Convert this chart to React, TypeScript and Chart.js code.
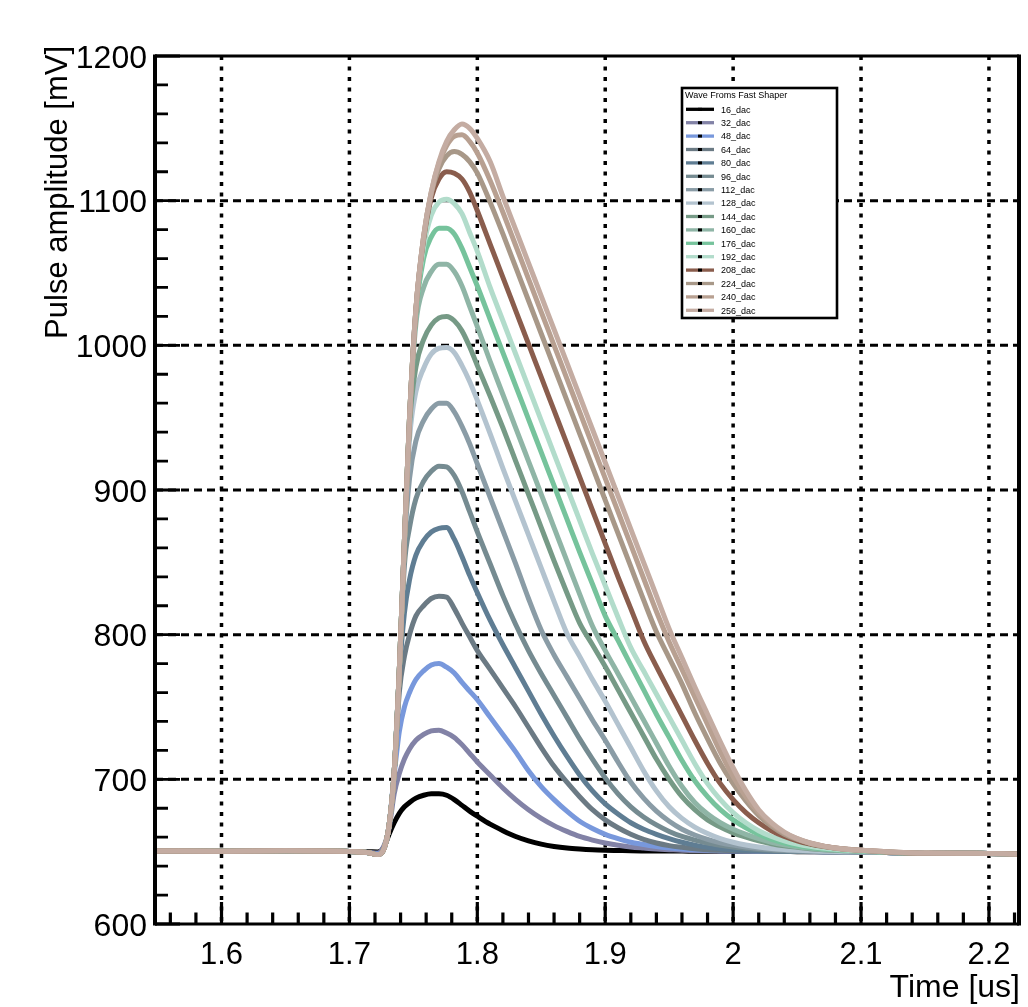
import React, { useEffect, useRef } from 'react';
import { Chart, registerables } from 'chart.js';

Chart.register(...registerables);

// ---------------- data ----------------
const timeUs = [1.548, 1.6, 1.65, 1.7, 1.715, 1.722, 1.727, 1.731, 1.735, 1.739, 1.743, 1.747, 1.752, 1.758, 1.764, 1.77, 1.776, 1.782, 1.788, 1.794, 1.8, 1.81, 1.82, 1.83, 1.84, 1.85, 1.86, 1.87, 1.88, 1.89, 1.9, 1.91, 1.92, 1.93, 1.94, 1.95, 1.96, 1.97, 1.98, 1.99, 2.0, 2.01, 2.02, 2.03, 2.04, 2.05, 2.06, 2.07, 2.08, 2.09, 2.1, 2.12, 2.15, 2.19, 2.2235];

const dac16 = [650.5, 650.3, 650.6, 650.2, 650, 649.8, 653, 662, 670, 676.5, 681, 684, 687, 689, 690, 690, 689, 686, 682, 678, 674.5, 669, 664.5, 660.5, 657.5, 655.2, 653.6, 652.5, 651.8, 651.3, 651, 650.8, 650.6, 650.5, 650.5, 650.4, 650.4, 650.3, 650.3, 650.3, 650.2, 650.2, 650.1, 650.1, 650.1, 650, 650, 650, 649.9, 649.9, 649.8, 649.5, 648.8, 648.9, 648.3];
const dac32 = [650.5, 650.3, 650.6, 650.2, 649.5, 649, 654, 666, 690, 704, 714, 721, 727, 731, 733.5, 734, 732, 729, 724, 718, 712, 703, 694, 686, 679, 673, 668, 664, 660.5, 658, 656, 654.5, 653.3, 652.5, 651.8, 651.4, 651, 650.8, 650.6, 650.5, 650.4, 650.3, 650.2, 650.2, 650.1, 650.1, 650, 650, 649.9, 649.9, 649.8, 649.5, 648.8, 648.9, 648.3];
const dac48 = [650.5, 650.3, 650.6, 650.2, 649.3, 648.5, 652, 668, 703, 733, 750, 760, 769, 775, 779, 780, 777.5, 773.5, 767, 761, 755, 743, 731, 719, 706, 695, 686, 678, 671, 666, 662, 659, 656.5, 655, 653.5, 652.5, 651.8, 651.3, 651, 650.7, 650.5, 650.4, 650.3, 650.2, 650.2, 650.1, 650.1, 650, 650, 649.9, 649.8, 649.5, 648.8, 648.9, 648.3];
const dac64 = [650.5, 650.3, 650.6, 650.2, 649.3, 648, 652, 668, 705, 760, 785, 800, 813, 820, 825, 826.5, 826, 818, 808, 798.5, 789, 776, 763, 750, 736, 722, 709, 698, 688, 679, 672, 666.5, 662, 658.5, 656, 654.2, 653, 652, 651.4, 651, 650.7, 650.5, 650.4, 650.3, 650.2, 650.2, 650.1, 650, 650, 649.9, 649.8, 649.5, 648.8, 648.9, 648.3];
const dac80 = [650.5, 650.3, 650.6, 650.2, 649.3, 648, 652, 668, 705, 772, 815, 838, 855, 865, 871, 873.5, 874, 866, 854, 841, 829, 810, 793, 777, 761, 745, 730, 716, 703, 692, 683, 676, 670, 665.5, 662, 659, 656.5, 654.5, 653, 652, 651.3, 650.9, 650.6, 650.4, 650.3, 650.2, 650.1, 650, 650, 649.9, 649.8, 649.5, 648.8, 648.9, 648.3];
const dac96 = [650.5, 650.3, 650.6, 650.2, 649.3, 648, 652, 668, 705, 775, 848, 874, 894, 906, 913, 916.5, 916, 910, 899, 885, 871, 849, 827, 807, 789, 773, 758, 743, 728, 714, 701, 690, 681, 674, 668.5, 664, 660.5, 658, 656, 654.5, 653.2, 652.2, 651.5, 651, 650.6, 650.4, 650.2, 650.1, 650, 649.9, 649.8, 649.5, 648.8, 648.9, 648.3];
const dac112 = [650.5, 650.3, 650.6, 650.2, 649.3, 648, 652, 668, 705, 775, 862, 908, 934, 948, 956, 960, 960, 954, 944, 932, 918, 895, 872, 849, 825, 803, 786, 771, 756, 741, 727, 712, 698, 687, 678, 671, 665.5, 661.5, 658.5, 656.2, 654.5, 653.2, 652.2, 651.5, 651, 650.6, 650.4, 650.2, 650, 649.9, 649.8, 649.5, 648.8, 648.9, 648.3];
const dac128 = [650.5, 650.3, 650.6, 650.2, 649.3, 648, 652, 668, 705, 775, 865, 935, 968, 984, 994, 998, 998.5, 995, 986, 975, 962, 939, 915, 892, 869, 846, 823, 801, 785, 769, 754, 738, 722, 706, 692, 681, 673, 667, 662.5, 659, 656.5, 654.6, 653.2, 652.2, 651.5, 651, 650.6, 650.3, 650.1, 650, 649.9, 649.5, 648.8, 648.9, 648.3];
const dac144 = [650.5, 650.3, 650.6, 650.2, 649.3, 648, 652, 668, 705, 775, 865, 945, 985, 1004, 1014, 1019, 1020, 1017, 1010, 999, 986, 965, 943, 920, 897, 874, 851, 829, 808, 793, 778, 762, 746, 730, 714, 700, 688, 679, 672, 667, 663, 660, 657.5, 655.5, 654, 653, 652, 651.3, 650.9, 650.6, 650.3, 649.6, 648.8, 648.9, 648.3];
const dac160 = [650.5, 650.3, 650.6, 650.2, 649.3, 648, 652, 668, 705, 775, 865, 950, 1015, 1040, 1051, 1056, 1056, 1051, 1041, 1027, 1013, 989, 966, 943, 920, 897, 874, 851, 828, 806, 789, 773, 757, 741, 725, 709, 695, 684, 676, 670, 665.5, 662, 659, 656.5, 654.7, 653.3, 652.3, 651.5, 651, 650.6, 650.4, 649.6, 648.8, 648.9, 648.3];
const dac176 = [650.5, 650.3, 650.6, 650.2, 649.3, 648, 652, 668, 705, 775, 865, 950, 1022, 1060, 1075, 1081, 1081, 1077, 1067, 1054, 1041, 1018, 995, 972, 949, 926, 903, 880, 857, 835, 813, 796, 779, 762, 745, 729, 713, 699, 688, 679, 672, 666.5, 662, 658.5, 656, 654.2, 652.9, 652, 651.3, 650.8, 650.5, 649.7, 648.9, 648.9, 648.3];
const dac192 = [650.5, 650.3, 650.6, 650.2, 649.3, 648, 652, 668, 705, 775, 865, 950, 1025, 1068, 1090, 1099, 1101, 1098, 1091, 1078, 1065, 1040, 1017, 994, 971, 948, 925, 902, 879, 856, 834, 812, 791, 775, 759, 743, 727, 711, 697, 686, 677, 670, 664.5, 660.5, 657.5, 655.3, 653.7, 652.5, 651.6, 651, 650.6, 649.7, 648.9, 648.9, 648.3];
const dac208 = [650.5, 650.3, 650.6, 650.2, 649.3, 648, 652, 668, 705, 775, 865, 950, 1025, 1073, 1102, 1115, 1120, 1119, 1115, 1106, 1093, 1070, 1047, 1024, 1001, 978, 955, 932, 909, 886, 863, 840, 818, 796, 778, 761, 744, 727, 711, 697, 686, 677, 670, 664.5, 660.5, 657.5, 655.3, 653.7, 652.5, 651.6, 651, 649.8, 648.9, 648.9, 648.3];
const dac224 = [650.5, 650.3, 650.6, 650.2, 649.3, 648, 652, 668, 705, 775, 865, 950, 1025, 1075, 1105, 1122, 1131, 1134, 1132, 1127, 1119, 1099, 1077, 1054, 1031, 1008, 985, 962, 939, 916, 893, 870, 847, 824, 802, 784, 766, 746, 728, 711, 697, 685, 675, 667.5, 662, 658.5, 655.8, 653.8, 652.4, 651.5, 650.9, 649.8, 648.9, 648.9, 648.3];
const dac240 = [650.5, 650.3, 650.6, 650.2, 649.3, 648, 652, 668, 705, 775, 865, 950, 1025, 1075, 1106, 1126, 1138, 1144.5, 1145.5, 1141, 1133, 1114, 1092, 1069, 1046, 1023, 1000, 977, 954, 931, 908, 885, 862, 839, 816, 795, 776, 757, 738, 719, 702, 688, 677, 669, 663, 659, 656, 654, 652.5, 651.5, 651, 649.9, 649, 648.9, 648.3];
const dac256 = [650.5, 650.3, 650.6, 650.2, 649.3, 648, 652, 668, 705, 775, 865, 950, 1025, 1075, 1106, 1127, 1141, 1149, 1153, 1150, 1143, 1127, 1103, 1080, 1057, 1034, 1011, 988, 965, 942, 919, 896, 873, 850, 827, 804, 784, 764, 745, 726, 708, 692, 679, 670, 663.5, 659, 656, 654, 652.5, 651.5, 651, 649.9, 649, 648.9, 648.3];

const seriesLabels = ['16_dac', '32_dac', '48_dac', '64_dac', '80_dac', '96_dac', '112_dac', '128_dac', '144_dac', '160_dac', '176_dac', '192_dac', '208_dac', '224_dac', '240_dac', '256_dac'];
const seriesValues = [dac16, dac32, dac48, dac64, dac80, dac96, dac112, dac128, dac144, dac160, dac176, dac192, dac208, dac224, dac240, dac256];
const seriesColors = ['#000000', '#8282a6', '#7898dc', '#6b7a84', '#5f7d93', '#758b91', '#8a9ca6', '#b3c3cf', '#769a86', '#8fb5a6', '#76c39c', '#b2dccb', '#8a5d4d', '#a89888', '#b8a091', '#c4aca2'];

const xMajorTicks = [1.6, 1.7, 1.8, 1.9, 2.0, 2.1, 2.2];
const xTickLabels = ['1.6', '1.7', '1.8', '1.9', '2', '2.1', '2.2'];
const xMinorTicks = [1.56, 1.58, 1.62, 1.64, 1.66, 1.68, 1.72, 1.74, 1.76, 1.78, 1.82, 1.84, 1.86, 1.88, 1.92, 1.94, 1.96, 1.98, 2.02, 2.04, 2.06, 2.08, 2.12, 2.14, 2.16, 2.18, 2.22];
const yMajorTicks = [600, 700, 800, 900, 1000, 1100, 1200];
const yTickLabels = ['600', '700', '800', '900', '1000', '1100', '1200'];
const yMinorTicks = [620, 640, 660, 680, 720, 740, 760, 780, 820, 840, 860, 880, 920, 940, 960, 980, 1020, 1040, 1060, 1080, 1120, 1140, 1160, 1180];

const xTitle = 'Time [us]';
const yTitle = 'Pulse amplitude [mV]';
const legendTitle = 'Wave Froms Fast Shaper';

const FONT = '"Liberation Sans", Arial, Helvetica, sans-serif';

const rootPlugin = {
  id: 'rootStyle',
  beforeDatasetsDraw(chart: any) {
    const { ctx, chartArea: a, scales } = chart;
    const x = scales.x;
    const y = scales.y;
    ctx.save();
    ctx.strokeStyle = '#000';
    ctx.lineWidth = 3.5;
    ctx.setLineDash([4, 6.5]);
    for (const v of xMajorTicks) {
      const px = x.getPixelForValue(v);
      ctx.beginPath();
      ctx.moveTo(px, a.top);
      ctx.lineTo(px, a.bottom);
      ctx.stroke();
    }
    ctx.lineWidth = 3;
    ctx.setLineDash([8, 5]);
    for (const v of yMajorTicks) {
      if (v <= y.min || v >= y.max) continue;
      const py = y.getPixelForValue(v);
      ctx.beginPath();
      ctx.moveTo(a.left, py);
      ctx.lineTo(a.right, py);
      ctx.stroke();
    }
    ctx.restore();
  },
  afterDatasetsDraw(chart: any) {
    const { ctx, chartArea: a, scales } = chart;
    const x = scales.x;
    const y = scales.y;
    ctx.save();
    ctx.setLineDash([]);
    ctx.strokeStyle = '#000';
    ctx.fillStyle = '#000';
    // frame
    ctx.lineWidth = 3;
    ctx.beginPath();
    ctx.moveTo(a.left, a.top);
    ctx.lineTo(a.right, a.top);
    ctx.moveTo(a.left, a.bottom);
    ctx.lineTo(a.right, a.bottom);
    ctx.stroke();
    ctx.lineWidth = 4;
    ctx.beginPath();
    ctx.moveTo(a.left, a.top - 1.5);
    ctx.lineTo(a.left, a.bottom + 1.5);
    ctx.moveTo(a.right, a.top - 1.5);
    ctx.lineTo(a.right, a.bottom + 1.5);
    ctx.stroke();
    // x ticks
    ctx.lineWidth = 3.2;
    ctx.beginPath();
    for (const v of xMajorTicks) {
      const px = x.getPixelForValue(v);
      ctx.moveTo(px, a.bottom);
      ctx.lineTo(px, a.bottom - 22);
    }
    for (const v of xMinorTicks) {
      const px = x.getPixelForValue(v);
      ctx.moveTo(px, a.bottom);
      ctx.lineTo(px, a.bottom - 11.5);
    }
    ctx.stroke();
    // y ticks
    ctx.lineWidth = 2.8;
    ctx.beginPath();
    for (const v of yMajorTicks) {
      const py = y.getPixelForValue(v);
      ctx.moveTo(a.left, py);
      ctx.lineTo(a.left + 25, py);
    }
    for (const v of yMinorTicks) {
      const py = y.getPixelForValue(v);
      ctx.moveTo(a.left, py);
      ctx.lineTo(a.left + 13, py);
    }
    ctx.stroke();
    // tick labels
    ctx.font = `31px ${FONT}`;
    ctx.textBaseline = 'alphabetic';
    ctx.textAlign = 'center';
    xMajorTicks.forEach((v, i) => {
      ctx.fillText(xTickLabels[i], x.getPixelForValue(v), a.bottom + 40);
    });
    ctx.font = `32px ${FONT}`;
    ctx.textAlign = 'right';
    yMajorTicks.forEach((v, i) => {
      ctx.fillText(yTickLabels[i], a.left - 8, y.getPixelForValue(v) + 11.5);
    });
    // axis titles
    ctx.font = `32px ${FONT}`;
    ctx.textAlign = 'right';
    ctx.fillText(xTitle, a.right + 1, a.bottom + 73);
    ctx.save();
    ctx.font = `31px ${FONT}`;
    ctx.translate(67, 46);
    ctx.rotate(-Math.PI / 2);
    ctx.textAlign = 'right';
    ctx.fillText(yTitle, 0, 0);
    ctx.restore();

    // legend
    const lx = 682, ly = 88, lw = 155, lh = 230;
    ctx.fillStyle = '#fff';
    ctx.fillRect(lx, ly, lw, lh);
    ctx.strokeStyle = '#000';
    ctx.lineWidth = 2.6;
    ctx.strokeRect(lx, ly, lw, lh);
    ctx.fillStyle = '#000';
    ctx.font = `9px ${FONT}`;
    ctx.textAlign = 'left';
    ctx.textBaseline = 'alphabetic';
    ctx.fillText(legendTitle, lx + 3, ly + 10);
    seriesLabels.forEach((name, i) => {
      const cy = 109.3 + i * 13.4;
      ctx.strokeStyle = seriesColors[i];
      ctx.lineWidth = 3.3;
      ctx.beginPath();
      ctx.moveTo(686, cy);
      ctx.lineTo(714, cy);
      ctx.stroke();
      ctx.fillStyle = '#000';
      ctx.fillRect(698, cy - 1.5, 4, 3);
      ctx.fillText(name, 721, cy + 3.2);
    });
    ctx.restore();
  },
};

export default function App() {
  const canvasRef = useRef<HTMLCanvasElement | null>(null);

  useEffect(() => {
    const canvas = canvasRef.current;
    if (!canvas) return;
    const n = seriesLabels.length;
    const chart = new Chart(canvas, {
      type: 'line',
      data: {
        datasets: seriesLabels.map((label, i) => ({
          label,
          data: timeUs.map((t, j) => ({ x: t, y: seriesValues[i][j] })),
          borderColor: seriesColors[i],
          backgroundColor: seriesColors[i],
          borderWidth: 5,
          pointRadius: 0,
          fill: false,
          cubicInterpolationMode: 'monotone' as const,
          order: n - 1 - i,
          clip: 0,
        })),
      },
      options: {
        responsive: false,
        animation: false,
        devicePixelRatio: 1,
        events: [],
        layout: { padding: { left: 155, top: 56, right: 9, bottom: 83 } },
        scales: {
          x: { type: 'linear', display: false, min: 1.548, max: 2.2235, ticks: { display: false }, grid: { display: false } },
          y: { type: 'linear', display: false, min: 600, max: 1200, ticks: { display: false }, grid: { display: false } },
        },
        plugins: {
          legend: { display: false },
          tooltip: { enabled: false },
        },
      },
      plugins: [rootPlugin],
    } as any);
    return () => chart.destroy();
  }, []);

  return (
    <div style={{ position: 'absolute', left: 0, top: 0, width: 1028, height: 1007, background: '#fff' }}>
      <canvas ref={canvasRef} width={1028} height={1007} style={{ display: 'block' }} />
    </div>
  );
}
